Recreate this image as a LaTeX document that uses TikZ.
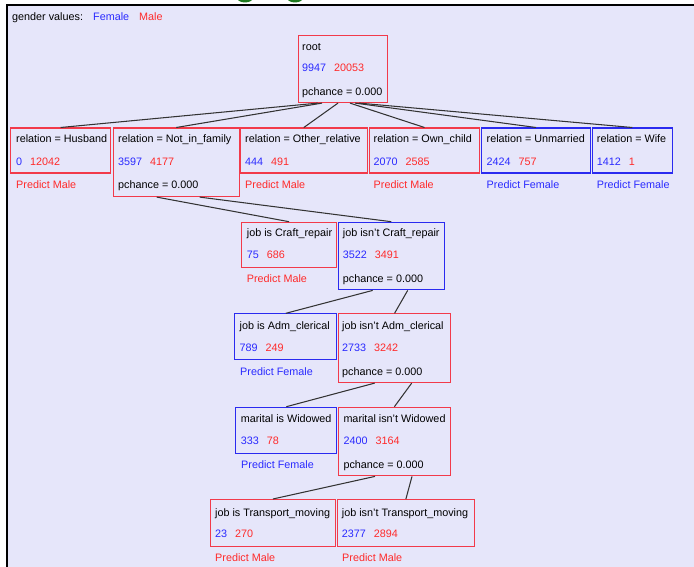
\documentclass[tikz,border=0pt]{standalone}
\usepackage{fontspec}
\setmainfont{Liberation Sans}
\definecolor{bg}{HTML}{E6E6FA}
\definecolor{boxred}{HTML}{F23A4A}
\definecolor{boxblue}{HTML}{2A2AF0}
\definecolor{nred}{HTML}{FF2A2A}
\definecolor{nblue}{HTML}{2A2AFF}
\definecolor{edgegray}{HTML}{333333}
\definecolor{gdark}{HTML}{1F7A1F}
\newcommand\numpair[2]{{\color{nblue}#1}\hspace{8pt}{\color{nred}#2}}
\begin{document}
\begin{tikzpicture}[x=1pt,y=-1pt,
  box/.style={draw, rectangle, inner sep=0pt, line width=1.1pt, anchor=north west},
  rbox/.style={box, draw=boxred},
  bbox/.style={box, draw=boxblue},
  txt/.style={anchor=mid west, inner sep=0pt, yshift=-1.5pt, font=\fontsize{10.8}{12}\selectfont, text=black},
  predm/.style={txt, text=nred},
  predf/.style={txt, text=nblue},
  edge/.style={draw=edgegray, line width=1.05pt}]
\useasboundingbox (0,0) rectangle (694,567);
% panel
\fill[bg] (7,5) rectangle (694,567);
\begin{scope}
  \clip (0,0) rectangle (694,4.5);
  \fill[gdark] (245,-3) ellipse (8.5 and 5.5);
  \fill[gdark] (295,-3) ellipse (8.5 and 5.5);
\end{scope}
\draw[black, line width=1.3pt] (7,567) -- (7,5) -- (694,5);
% legend
\node[txt] (legend) at (12,16) {gender values:};
\node[txt, text=nblue] (legf) at (93,16) {Female};
\node[txt, text=nred] (legm) at (139,16) {Male};

% boxes
\node[rbox, minimum width=89pt, minimum height=67pt] (root) at (298,35) {};
\node[rbox, minimum width=100pt, minimum height=45pt] (hus) at (10,127.5) {};
\node[rbox, minimum width=126pt, minimum height=68.5pt] (nif) at (112.7,127.5) {};
\node[rbox, minimum width=126.5pt, minimum height=45pt] (oth) at (240,127.5) {};
\node[rbox, minimum width=110pt, minimum height=45pt] (own) at (369,127.5) {};
\node[bbox, minimum width=109pt, minimum height=45pt] (unm) at (481,127.5) {};
\node[bbox, minimum width=80pt, minimum height=45pt] (wife) at (591.7,127.5) {};

\node[rbox, minimum width=95pt, minimum height=45pt] (craft) at (241,221.7) {};
\node[bbox, minimum width=106pt, minimum height=67.6pt] (ncraft) at (337.7,221.7) {};

\node[bbox, minimum width=102pt, minimum height=46pt] (adm) at (234.3,313.3) {};
\node[rbox, minimum width=112.6pt, minimum height=68.7pt] (nadm) at (337.7,313.3) {};

\node[bbox, minimum width=101pt, minimum height=46pt] (wid) at (235.3,406.7) {};
\node[rbox, minimum width=111.7pt, minimum height=68.6pt] (nwid) at (338,406.7) {};

\node[rbox, minimum width=124.7pt, minimum height=46.7pt] (trans) at (210,499) {};
\node[rbox, minimum width=136.7pt, minimum height=46.7pt] (ntrans) at (337,499) {};

% edges
\draw[edge] ([xshift=20pt]root.south west) -- (hus.north);
\draw[edge] ([xshift=24pt]root.south west) -- (nif.north);
\draw[edge] ([xshift=40pt]root.south west) -- (oth.north);
\draw[edge] ([xshift=52pt]root.south west) -- (own.north);
\draw[edge] ([xshift=57pt]root.south west) -- (unm.north);
\draw[edge] ([xshift=61pt]root.south west) -- (wife.north);
\draw[edge] ([xshift=44pt]nif.south west) -- (craft.north);
\draw[edge] ([xshift=87pt]nif.south west) -- (ncraft.north);
\draw[edge] ([xshift=35pt]ncraft.south west) -- (adm.north);
\draw[edge] ([xshift=70pt]ncraft.south west) -- (nadm.north);
\draw[edge] ([xshift=37pt]nadm.south west) -- (wid.north);
\draw[edge] ([xshift=74pt]nadm.south west) -- (nwid.north);
\draw[edge] ([xshift=37pt]nwid.south west) -- (trans.north);
\draw[edge] ([xshift=74pt]nwid.south west) -- (ntrans.north);

% root text
\node[txt] (root-a) at (302,46) {root};
\node[txt] (root-b) at (302,67.5) {\numpair{9947}{20053}};
\node[txt] (root-c) at (302,91) {pchance = 0.000};

% level 1
\node[txt] (hus-a) at (16,138.5) {relation = Husband};
\node[txt] (hus-b) at (16,161) {\numpair{0}{12042}};
\node[predm] (hus-p) at (16,184) {Predict Male};

\node[txt] (nif-a) at (118,138.5) {relation = Not\_in\_family};
\node[txt] (nif-b) at (118,161) {\numpair{3597}{4177}};
\node[txt] (nif-c) at (118,184) {pchance = 0.000};

\node[txt] (oth-a) at (245,138.5) {relation = Other\_relative};
\node[txt] (oth-b) at (245,161) {\numpair{444}{491}};
\node[predm] (oth-p) at (245,184) {Predict Male};

\node[txt] (own-a) at (373.5,138.5) {relation = Own\_child};
\node[txt] (own-b) at (373.5,161) {\numpair{2070}{2585}};
\node[predm] (own-p) at (373.5,184) {Predict Male};

\node[txt] (unm-a) at (486.5,138.5) {relation = Unmarried};
\node[txt] (unm-b) at (486.5,161) {\numpair{2424}{757}};
\node[predf] (unm-p) at (486.5,184) {Predict Female};

\node[txt] (wife-a) at (596.7,138.5) {relation = Wife};
\node[txt] (wife-b) at (596.7,161) {\numpair{1412}{1}};
\node[predf] (wife-p) at (596.7,184) {Predict Female};

% level 2
\node[txt] (craft-a) at (246.7,232.7) {job is Craft\_repair};
\node[txt] (craft-b) at (246.7,254) {\numpair{75}{686}};
\node[predm] (craft-p) at (246.7,278) {Predict Male};

\node[txt] (ncraft-a) at (342.7,232.7) {job isn't Craft\_repair};
\node[txt] (ncraft-b) at (342.7,254) {\numpair{3522}{3491}};
\node[txt] (ncraft-c) at (342.7,278) {pchance = 0.000};

% level 3
\node[txt] (adm-a) at (239.5,325) {job is Adm\_clerical};
\node[txt] (adm-b) at (239.5,347.3) {\numpair{789}{249}};
\node[predf] (adm-p) at (240,371) {Predict Female};

\node[txt] (nadm-a) at (342,325) {job isn't Adm\_clerical};
\node[txt] (nadm-b) at (342,347.3) {\numpair{2733}{3242}};
\node[txt] (nadm-c) at (342,371) {pchance = 0.000};

% level 4
\node[txt] (wid-a) at (240.7,418.3) {marital is Widowed};
\node[txt] (wid-b) at (240.7,440) {\numpair{333}{78}};
\node[predf] (wid-p) at (241,464) {Predict Female};

\node[txt] (nwid-a) at (343.3,418.3) {marital isn't Widowed};
\node[txt] (nwid-b) at (343.3,440) {\numpair{2400}{3164}};
\node[txt] (nwid-c) at (343.3,464) {pchance = 0.000};

% level 5
\node[txt] (trans-a) at (215,512) {job is Transport\_moving};
\node[txt] (trans-b) at (215,533.7) {\numpair{23}{270}};
\node[predm] (trans-p) at (215,557.7) {Predict Male};

\node[txt] (ntrans-a) at (341.7,512) {job isn't Transport\_moving};
\node[txt] (ntrans-b) at (341.7,533.7) {\numpair{2377}{2894}};
\node[predm] (ntrans-p) at (342,557.7) {Predict Male};
\end{tikzpicture}
\end{document}
